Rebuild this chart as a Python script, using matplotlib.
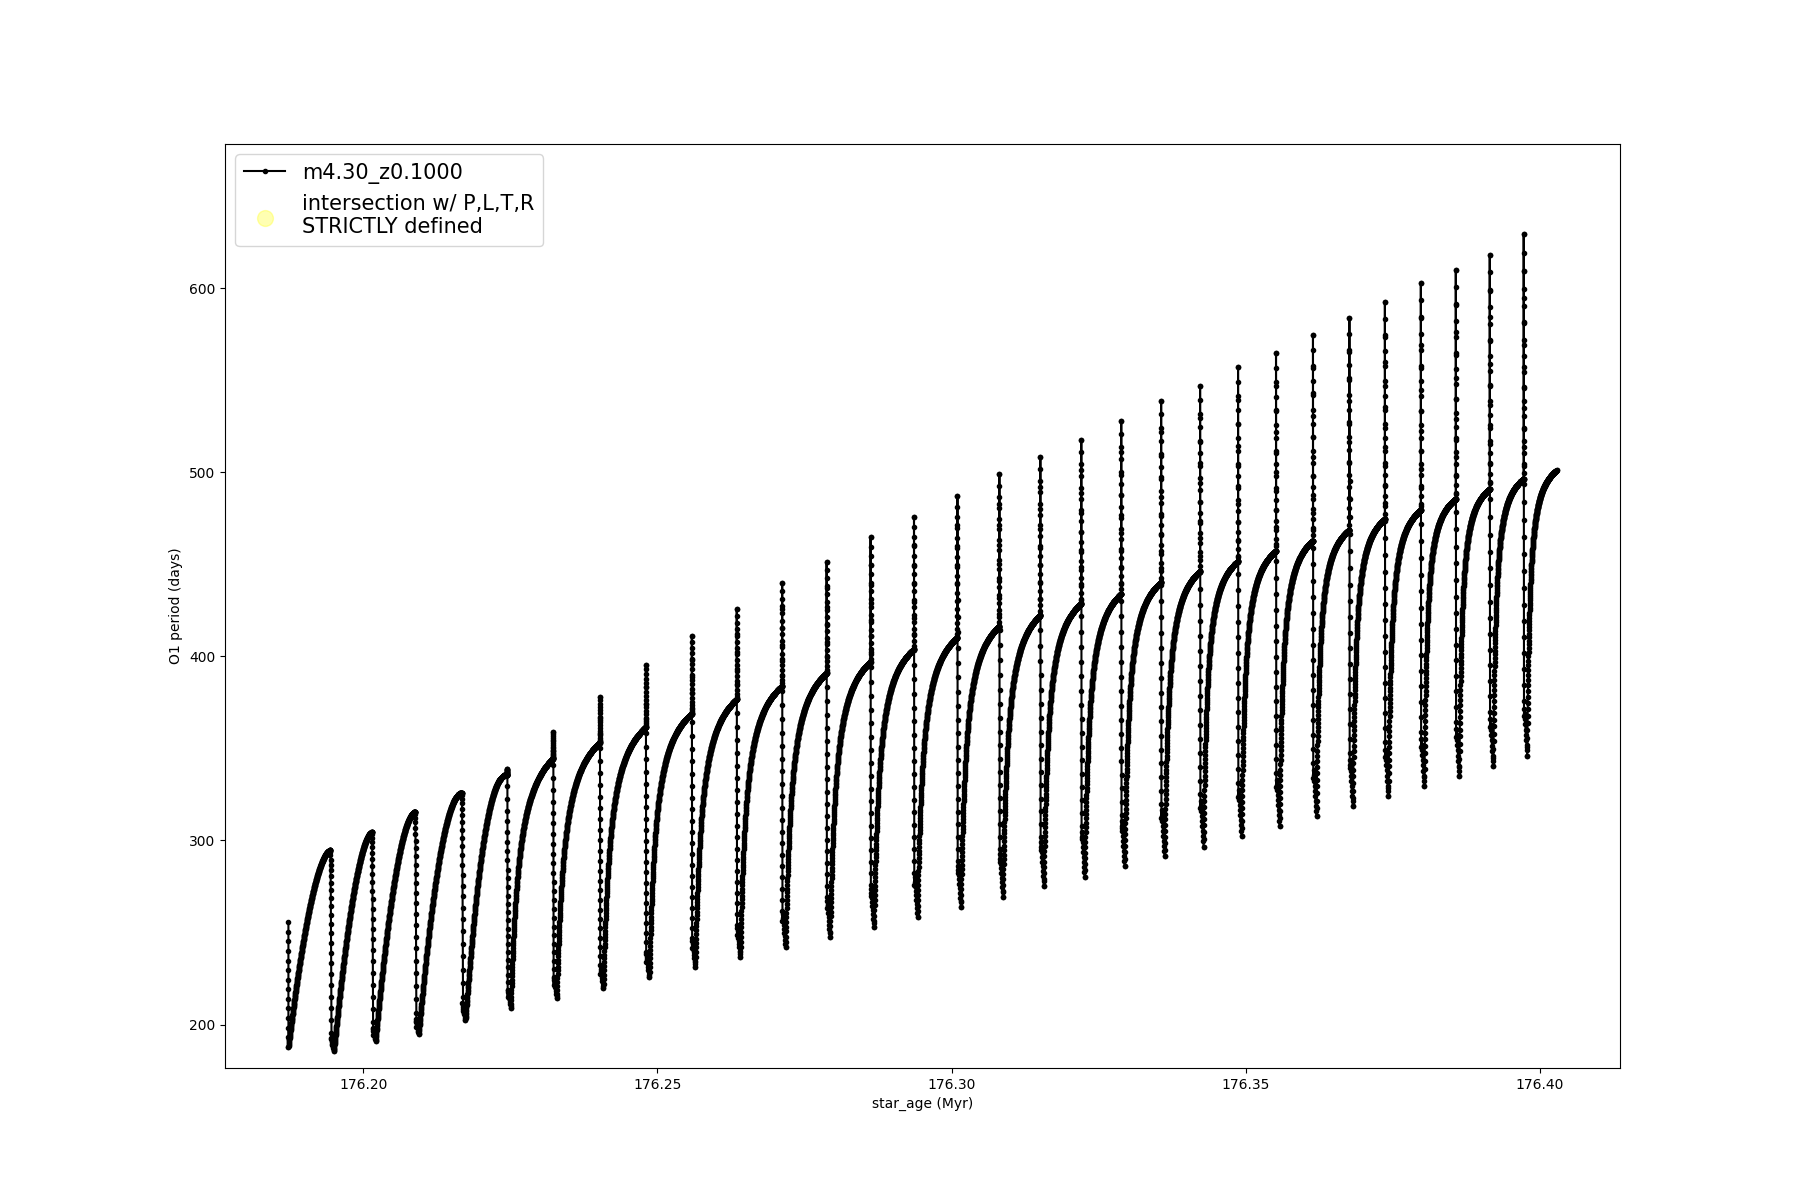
import numpy as np
import matplotlib
matplotlib.use("Agg")
import matplotlib.pyplot as plt

start_age = 176.18729
start_period = 255.5
end_age = 176.40280
end_period = 501.0

# age of each thermal pulse (Myr)
pulse_age = [176.19442, 176.20149, 176.20884, 176.21677, 176.22450, 176.23231,
             176.24023, 176.24804, 176.25585, 176.26348, 176.27120, 176.27875,
             176.28622, 176.29360, 176.30098, 176.30811, 176.31507, 176.32203,
             176.32882, 176.33560, 176.34222, 176.34867, 176.35512, 176.36140,
             176.36759, 176.37362, 176.37973, 176.38567, 176.39144, 176.39721]
# period just before each pulse
plateau_period = [294.6, 304.4, 315.4, 325.8, 335.7, 344.8, 353.3, 361.6, 369.0, 376.7,
                  383.9, 390.9, 397.1, 403.9, 410.3, 416.4, 422.4, 428.8, 434.0, 440.3,
                  446.3, 451.7, 457.3, 462.9, 468.7, 474.6, 479.5, 485.5, 490.9, 496.5]
# top of the spike at each pulse
spike_period = [294.6, 304.4, 315.4, 325.8, 339.0, 359.0, 378.0, 395.5, 411.1, 425.7,
                439.8, 451.5, 464.7, 475.7, 487.0, 499.0, 508.3, 517.7, 528.1, 538.9,
                546.8, 557.2, 565.0, 574.7, 583.7, 592.4, 602.7, 610.0, 618.2, 629.4]
# lowest period after start and after each pulse
dip_period = [188.0, 185.8, 191.2, 194.9, 202.5, 208.9, 214.3, 219.7, 225.7, 231.5,
              236.6, 242.0, 247.5, 252.9, 258.3, 264.1, 269.5, 275.4, 280.4, 286.2,
              291.3, 296.7, 302.6, 308.0, 313.1, 318.5, 323.9, 329.4, 334.8, 340.2,
              346.1]
# first (shallower) dip, height above the lowest one
first_dip_gap = [3, 3, 4, 5, 6, 7, 8, 8.5, 10, 12, 14, 15.8, 16.7, 17.6, 18.1, 19,
                 19.6, 20.3, 20.5, 21, 21, 21, 21, 21, 21, 21.5, 21.5, 21.5, 21.5, 21.5]
# early arches are round domes, later ones rise steeply and flatten
dome_k = [1.75, 1.75, 1.85, 2.0, 2.3]
rise_c = [0.2, 0.18, 0.17, 0.16, 0.16, 0.15, 0.15, 0.15,
          0.14, 0.14, 0.14, 0.14, 0.13, 0.13, 0.12, 0.12, 0.11, 0.11, 0.11, 0.10,
          0.10, 0.10, 0.09, 0.09, 0.09, 0.09]

DELAY = 0.0006  # pulse -> lowest point


def recovery(i, t0, t1, y0, y1, n=380):
    s = np.linspace(0, 1, n)
    if i < len(dome_k):
        f = 1 - (1 - s) ** dome_k[i]
    else:
        c = rise_c[i - len(dome_k)]
        f = s * (1 + c) / (s + c)
    return t0 + (t1 - t0) * s, y0 + (y1 - y0) * f


ages = [np.array([start_age] * 14)]
pers = [np.linspace(start_period, dip_period[0], 14)]

seg_start = start_age
for i in range(len(pulse_age) + 1):
    t_end = pulse_age[i] if i < len(pulse_age) else end_age
    y_end = plateau_period[i] if i < len(pulse_age) else end_period
    a, p = recovery(i, seg_start, t_end, dip_period[i], y_end)
    ages.append(a)
    pers.append(p)
    if i == len(pulse_age):
        break
    t = pulse_age[i]
    low1 = dip_period[i + 1] + first_dip_gap[i]
    if spike_period[i] > plateau_period[i] + 1:
        u = np.linspace(0, 1, 18) ** 1.3
        ages.append(np.full(18, t))
        pers.append(plateau_period[i] + (spike_period[i] - plateau_period[i]) * u)
        d = np.linspace(0, 1, 26) ** 0.8
        ages.append(t + 0.00005 * d)
        pers.append(spike_period[i] - (spike_period[i] - low1) * d)
    else:
        d = np.linspace(0, 1, 24)
        ages.append(t + 0.0002 * d)
        pers.append(plateau_period[i] - (plateau_period[i] - low1) * d ** 1.5)
    # little wiggle down to the lowest point
    ages.append(np.linspace(t + 0.0001, t + DELAY, 10))
    pers.append(np.linspace(low1 + 4, dip_period[i + 1], 10))
    seg_start = t + DELAY

age = np.concatenate(ages)
period = np.concatenate(pers)

fig, ax = plt.subplots(figsize=(18, 12))
ax.plot(age, period, color='k', marker='.', ms=6, lw=1.5, label='m4.30_z0.1000')
ax.scatter([], [], s=130, color='yellow', alpha=0.3,
           label='intersection w/ P,L,T,R\nSTRICTLY defined')
ax.set_xlabel('star_age (Myr)')
ax.set_ylabel('O1 period (days)')
ax.set_ylim(176.4, 678.3)
ax.legend(loc='upper left', fontsize=15)
fig.savefig('out.png', dpi=100)
